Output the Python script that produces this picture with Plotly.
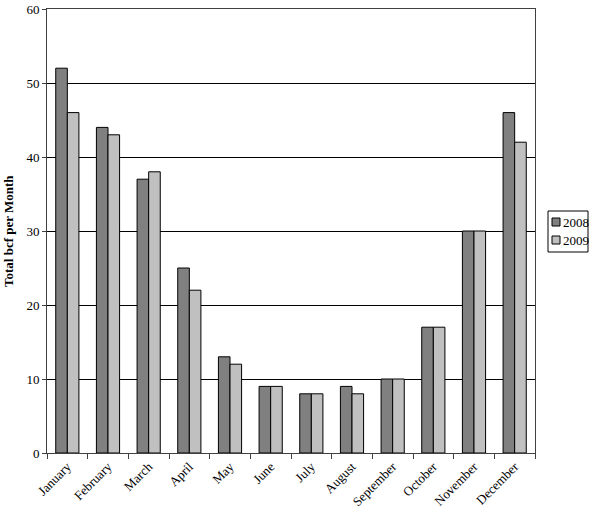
import plotly.graph_objects as go

months = ["January", "February", "March", "April", "May", "June", "July",
          "August", "September", "October", "November", "December"]
vals_2008 = [52, 44, 37, 25, 13, 9, 8, 9, 10, 17, 30, 46]
vals_2009 = [46, 43, 38, 22, 12, 9, 8, 8, 10, 17, 30, 42]
series_names = ["2008", "2009"]
series_colors = ["#808080", "#c0c0c0"]

FONT = "Liberation Serif, Times New Roman, serif"
W, H = 593, 519
L, R, T, B = 47, 58, 9, 66
PW, PH = W - L - R, H - T - B


def px_x(p):
    return (p - L) / PW


def px_y(p):
    return (H - B - p) / PH


fig = go.Figure()
for name, vals, col in zip(series_names, [vals_2008, vals_2009], series_colors):
    fig.add_bar(x=months, y=vals, name=name, showlegend=False,
                marker=dict(color=col, line=dict(color="#000000", width=1)))

shapes = [dict(type="rect", xref="paper", yref="paper",
               x0=px_x(548), x1=px_x(588), y0=px_y(252), y1=px_y(211),
               line=dict(color="#000000", width=1), fillcolor="white")]
annotations = []
for i, (name, col) in enumerate(zip(series_names, series_colors)):
    cy = 222 + i * 18
    shapes.append(dict(type="rect", xref="paper", yref="paper",
                       x0=px_x(552), x1=px_x(560), y0=px_y(cy + 4), y1=px_y(cy - 4),
                       line=dict(color="#000000", width=1), fillcolor=col))
    annotations.append(dict(xref="paper", yref="paper", x=px_x(561), y=px_y(cy),
                            xanchor="left", yanchor="middle", showarrow=False,
                            text=name, font=dict(family=FONT, size=13, color="#000000")))

annotations.append(dict(xref="paper", yref="paper", x=px_x(8), y=0.5,
                        xanchor="center", yanchor="middle", showarrow=False,
                        textangle=-90, text="<b>Total bcf per Month</b>",
                        font=dict(family=FONT, size=13, color="#000000")))

fig.update_layout(
    width=W, height=H,
    margin=dict(l=L, r=R, t=T, b=B, autoexpand=False),
    barmode="group", bargap=0.43, bargroupgap=0,
    plot_bgcolor="white", paper_bgcolor="white",
    font=dict(family=FONT, size=13, color="#000000"),
    showlegend=False,
    shapes=shapes, annotations=annotations,
)
fig.update_xaxes(tickangle=-45, ticks="outside", tickson="boundaries",
                 ticklen=5, tickcolor="#404040", automargin=False,
                 showline=True, linecolor="#404040", linewidth=1, mirror=True,
                 tickfont=dict(family=FONT, size=13, color="#000000"))
fig.update_yaxes(range=[0, 60], dtick=10, ticks="outside", ticklen=4,
                 tickcolor="#404040", automargin=False,
                 showgrid=True, gridcolor="#000000", gridwidth=1,
                 showline=True, linecolor="#404040", linewidth=1, mirror=True,
                 zeroline=False,
                 tickfont=dict(family=FONT, size=13, color="#000000"))

fig.write_html("out.html",
               config={"displayModeBar": False},
               post_script="document.body.style.margin='0';"
                           "document.body.style.overflow='hidden';")
